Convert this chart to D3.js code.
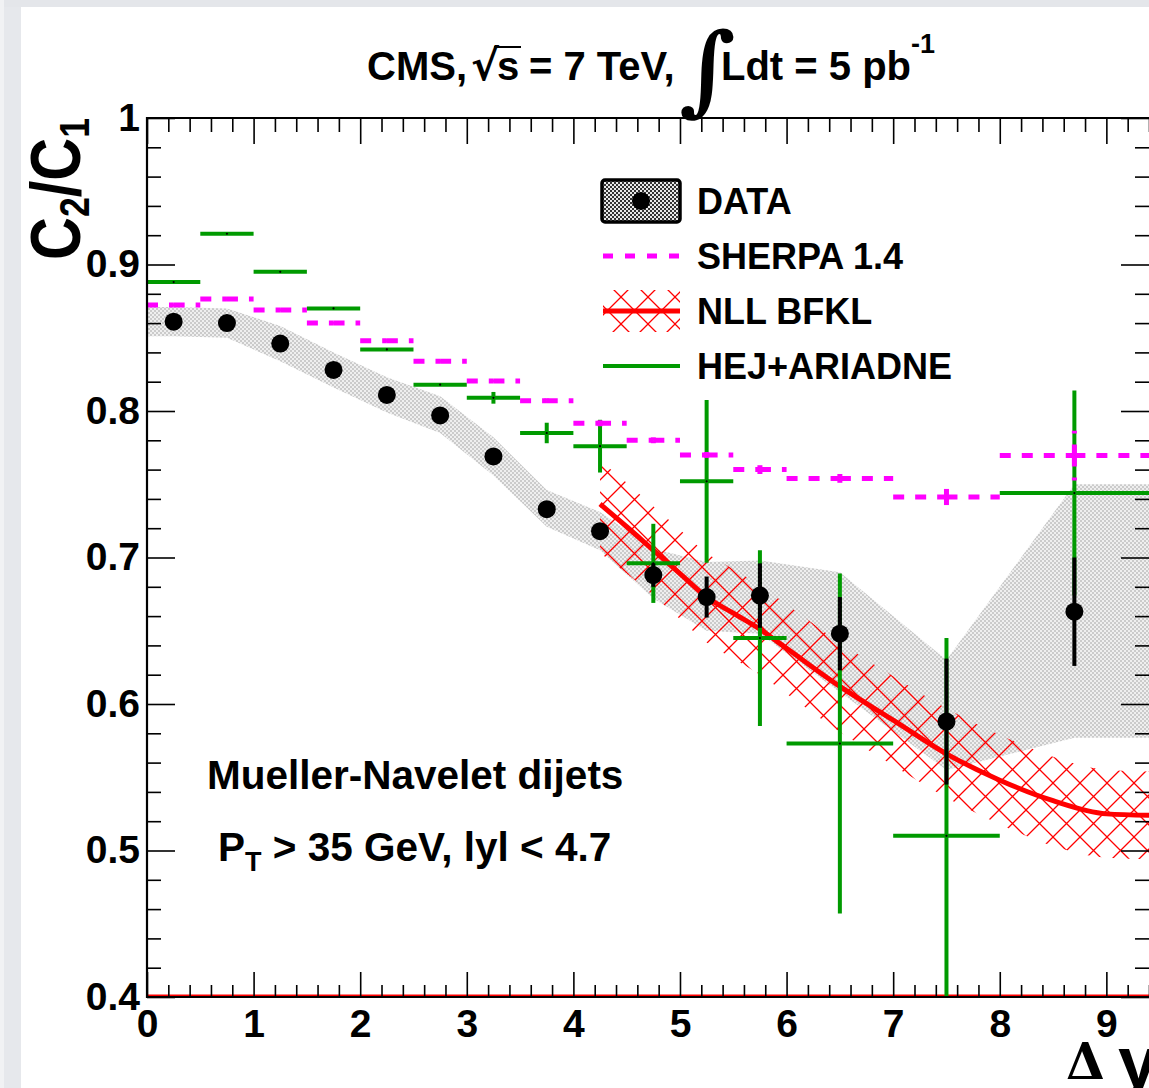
<!DOCTYPE html>
<html>
<head>
<meta charset="utf-8">
<script src="https://cdn.jsdelivr.net/npm/d3@7"></script>
<style>
  html, body { margin: 0; padding: 0; background: #fff; overflow: hidden; }
  svg { display: block; }
  text { font-family: "Liberation Sans", Arial, Helvetica, sans-serif; font-weight: bold; fill: #000; }
</style>
</head>
<body>
<svg id="chart" width="1149" height="1088"></svg>
<script>
// ---- measured azimuthal decorrelation C2/C1 versus rapidity separation ----
const dataX    = [0.25, 0.75, 1.25, 1.75, 2.25, 2.75, 3.25, 3.75, 4.25, 4.75, 5.25, 5.75, 6.5, 7.5, 8.7];
const dataY    = [0.861, 0.860, 0.846, 0.828, 0.811, 0.797, 0.769, 0.733, 0.718, 0.688, 0.673, 0.674, 0.648, 0.588, 0.663];
const dataStat = [0.002, 0.002, 0.002, 0.002, 0.002, 0.003, 0.003, 0.004, 0.005, 0.008, 0.014, 0.022, 0.025, 0.043, 0.037];

// systematic uncertainty band (edges extended to the axis range)
const sysX  = [0, 0.25, 0.75, 1.25, 1.75, 2.25, 2.75, 3.25, 3.75, 4.25, 4.75, 5.25, 5.75, 6.5, 7.5, 8.7, 9.4];
const sysHi = [0.871, 0.871, 0.870, 0.858, 0.840, 0.823, 0.810, 0.782, 0.746, 0.731, 0.706, 0.697, 0.698, 0.690, 0.630, 0.750, 0.750];
const sysLo = [0.851, 0.851, 0.850, 0.834, 0.816, 0.799, 0.785, 0.756, 0.721, 0.705, 0.672, 0.650, 0.648, 0.608, 0.555, 0.577, 0.577];

// bins shared by the generator predictions
const binLo = [0, 0.5, 1, 1.5, 2, 2.5, 3, 3.5, 4, 4.5, 5, 5.5, 6, 7, 8];
const binHi = [0.5, 1, 1.5, 2, 2.5, 3, 3.5, 4, 4.5, 5, 5.5, 6, 7, 8, 9.4];

// SHERPA 1.4
const sherpaY   = [0.8724, 0.8765, 0.869, 0.860, 0.848, 0.834, 0.8205, 0.807, 0.7916, 0.780, 0.770, 0.760, 0.754, 0.7413, 0.7696];
const sherpaErr = [0.001, 0.001, 0.001, 0.001, 0.001, 0.001, 0.001, 0.0015, 0.002, 0.002, 0.002, 0.003, 0.003, 0.0055, 0.017];

// HEJ+ARIADNE
const hejY   = [0.888, 0.921, 0.895, 0.870, 0.842, 0.818, 0.809, 0.785, 0.776, 0.696, 0.752, 0.645, 0.573, 0.510, 0.744];
const hejErr = [0.0005, 0.0005, 0.0005, 0.0005, 0.0005, 0.0005, 0.004, 0.007, 0.018, 0.027, 0.0555, 0.060, 0.116, 0.135, 0.070];

// NLL BFKL curve with its scale-uncertainty band
const nllX  = [4.25, 4.5, 4.75, 5.0, 5.25, 5.5, 5.75, 6.0, 6.5, 7.0, 7.5, 8.0, 8.5, 9.0, 9.4];
const nllY  = [0.7365, 0.721, 0.705, 0.689, 0.673, 0.662, 0.651, 0.638, 0.612, 0.589, 0.566, 0.548, 0.534, 0.525, 0.524];
const nllHi = [0.766, 0.751, 0.735, 0.719, 0.703, 0.692, 0.681, 0.668, 0.642, 0.619, 0.597, 0.579, 0.564, 0.555, 0.554];
const nllLo = [0.703, 0.689, 0.674, 0.658, 0.642, 0.631, 0.620, 0.607, 0.581, 0.558, 0.536, 0.518, 0.503, 0.495, 0.494];

// axis ticks
const xMajor = [0, 1, 2, 3, 4, 5, 6, 7, 8, 9];
const yMajor = [0.4, 0.5, 0.6, 0.7, 0.8, 0.9, 1.0];
const yLabels = ["0.4", "0.5", "0.6", "0.7", "0.8", "0.9", "1"];

const legendLabels = ["DATA", "SHERPA 1.4", "NLL BFKL", "HEJ+ARIADNE"];

// ---------------------------------------------------------------------------
const svg = d3.select("#chart");
const W = 1149, H = 1088;
const x = d3.scaleLinear().domain([0, 9.4]).range([147, 1149]);
const y = d3.scaleLinear().domain([0.4, 1.0]).range([997, 118]);

const GREEN = "#009a00", MAGENTA = "#ff00ff", RED = "#ff0000";

// page margins
svg.append("rect").attr("x", 0).attr("y", 0).attr("width", W).attr("height", H).attr("fill", "#fff");
svg.append("rect").attr("x", 0).attr("y", 0).attr("width", W).attr("height", 7).attr("fill", "#e4e6ea");
svg.append("rect").attr("x", 0).attr("y", 0).attr("width", 4).attr("height", H).attr("fill", "#f1f2f4");
svg.append("rect").attr("x", 4).attr("y", 7).attr("width", 17).attr("height", H - 7).attr("fill", "#e6e8ec");

const defs = svg.append("defs");
// fine checker fill for the systematic band
const pSys = defs.append("pattern").attr("id", "sysFill").attr("patternUnits", "userSpaceOnUse")
  .attr("width", 4).attr("height", 4);
pSys.append("rect").attr("width", 4).attr("height", 4).attr("fill", "#efefef");
pSys.append("rect").attr("width", 2).attr("height", 2).attr("fill", "#cbcbcb");
pSys.append("rect").attr("x", 2).attr("y", 2).attr("width", 2).attr("height", 2).attr("fill", "#cbcbcb");
// darker checker used in the legend entry
const pLeg = defs.append("pattern").attr("id", "legFill").attr("patternUnits", "userSpaceOnUse")
  .attr("width", 4).attr("height", 4);
pLeg.append("rect").attr("width", 4).attr("height", 4).attr("fill", "#e8e8e8");
pLeg.append("rect").attr("width", 2).attr("height", 2).attr("fill", "#333");
pLeg.append("rect").attr("x", 2).attr("y", 2).attr("width", 2).attr("height", 2).attr("fill", "#333");
// diagonal cross hatching for the BFKL band
const pHatch = defs.append("pattern").attr("id", "hatch").attr("patternUnits", "userSpaceOnUse")
  .attr("width", 27).attr("height", 27);
pHatch.append("path").attr("d", "M-2,-2L29,29M-2,29L29,-2")
  .attr("stroke", RED).attr("stroke-width", 1.3).attr("fill", "none");

defs.append("clipPath").attr("id", "plotClip").append("rect")
  .attr("x", x(0)).attr("y", y(1)).attr("width", x(9.4) - x(0)).attr("height", y(0.4) - y(1));

const plot = svg.append("g").attr("clip-path", "url(#plotClip)");

// systematic band
const sysArea = d3.area().x((d, i) => x(sysX[i])).y0((d, i) => y(sysLo[i])).y1((d, i) => y(sysHi[i]));
plot.append("path").datum(sysX).attr("d", sysArea).attr("fill", "url(#sysFill)");

// BFKL band and central curve
const nllArea = d3.area().curve(d3.curveMonotoneX)
  .x((d, i) => x(nllX[i])).y0((d, i) => y(nllLo[i])).y1((d, i) => y(nllHi[i]));
plot.append("path").datum(nllX).attr("d", nllArea).attr("fill", "url(#hatch)");
const nllLine = d3.line().curve(d3.curveMonotoneX).x((d, i) => x(nllX[i])).y((d, i) => y(nllY[i]));
plot.append("path").datum(nllX).attr("d", nllLine).attr("fill", "none")
  .attr("stroke", RED).attr("stroke-width", 5);
// floor line of the BFKL graph along the lower axis
plot.append("line").attr("x1", x(0)).attr("x2", x(9.4)).attr("y1", y(0.4) - 1.5).attr("y2", y(0.4) - 1.5)
  .attr("stroke", RED).attr("stroke-width", 2);

// HEJ+ARIADNE histogram with errors
const hej = plot.append("g").attr("stroke", GREEN).attr("stroke-width", 4).attr("fill", "none");
binLo.forEach((lo, i) => {
  const xc = (lo + binHi[i]) / 2;
  hej.append("line").attr("x1", x(lo)).attr("x2", x(binHi[i])).attr("y1", y(hejY[i])).attr("y2", y(hejY[i]));
  hej.append("line").attr("x1", x(xc)).attr("x2", x(xc))
    .attr("y1", y(hejY[i] - hejErr[i])).attr("y2", y(hejY[i] + hejErr[i]));
  plot.append("circle").attr("cx", x(xc)).attr("cy", y(hejY[i])).attr("r", 1.1).attr("fill", "#000");
});

// SHERPA histogram: each half-bin stroked separately with the dash pattern
const sh = plot.append("g").attr("stroke", MAGENTA).attr("stroke-width", 5).attr("fill", "none")
  .attr("stroke-dasharray", "11 11");
binLo.forEach((lo, i) => {
  const xc = (lo + binHi[i]) / 2, yc = y(sherpaY[i]);
  sh.append("path").attr("d", `M${x(lo)},${yc}H${x(xc)}`);
  sh.append("path").attr("d", `M${x(xc)},${yc}H${x(binHi[i])}`);
  sh.append("path").attr("d", `M${x(xc)},${yc}V${y(sherpaY[i] + sherpaErr[i])}`);
  sh.append("path").attr("d", `M${x(xc)},${yc}V${y(sherpaY[i] - sherpaErr[i])}`);
});

// data points with statistical errors
const dat = plot.append("g");
dataX.forEach((dx, i) => {
  dat.append("line").attr("x1", x(dx)).attr("x2", x(dx))
    .attr("y1", y(dataY[i] - dataStat[i])).attr("y2", y(dataY[i] + dataStat[i]))
    .attr("stroke", "#000").attr("stroke-width", 4);
  dat.append("circle").attr("cx", x(dx)).attr("cy", y(dataY[i])).attr("r", 9).attr("fill", "#000");
});

// ---- frame and axes ----
const axes = svg.append("g");
function tickAxis(gen, transform, size, values) {
  const g = axes.append("g").attr("transform", transform)
    .call(gen.tickValues(values).tickSize(size).tickFormat(""));
  g.select(".domain").remove();
  g.selectAll("line").attr("stroke", "#000").attr("stroke-width", 1.6);
  return g;
}
const xMinor = d3.range(0, 9.41, 0.2).filter(v => Math.abs(v - Math.round(v)) > 1e-6);
const yMinor = d3.range(0.4, 1.0001, 0.02).filter(v => Math.abs(v * 10 - Math.round(v * 10)) > 1e-6);
tickAxis(d3.axisTop(x), `translate(0,${y(0.4)})`, 25, xMajor);
tickAxis(d3.axisTop(x), `translate(0,${y(0.4)})`, 12, xMinor);
tickAxis(d3.axisBottom(x), `translate(0,${y(1)})`, 26, xMajor);
tickAxis(d3.axisBottom(x), `translate(0,${y(1)})`, 14, xMinor);
tickAxis(d3.axisRight(y), `translate(${x(0)},0)`, 28, yMajor);
tickAxis(d3.axisRight(y), `translate(${x(0)},0)`, 14, yMinor);
tickAxis(d3.axisLeft(y), `translate(${x(9.4)},0)`, 28, yMajor);
tickAxis(d3.axisLeft(y), `translate(${x(9.4)},0)`, 14, yMinor);

// frame (right side falls on the page edge)
axes.append("path")
  .attr("d", `M${x(9.4)},${y(1)}H${x(0)}V${y(0.4)}H${x(9.4)}`)
  .attr("fill", "none").attr("stroke", "#000").attr("stroke-width", 2.2);

// tick labels
const xl = axes.append("g").attr("transform", `translate(0,${y(0.4)})`)
  .call(d3.axisBottom(x).tickValues(xMajor).tickSize(0).tickPadding(12).tickFormat(d3.format("d")));
xl.select(".domain").remove();
xl.selectAll("text").attr("font-size", 39).attr("font-family", null).style("fill", "#000");

const yl = axes.append("g").attr("transform", `translate(${x(0)},0)`)
  .call(d3.axisLeft(y).tickValues(yMajor).tickSize(0).tickPadding(7).tickFormat((d, i) => yLabels[i]));
yl.select(".domain").remove();
yl.selectAll("text").attr("font-size", 39).attr("font-family", null).style("fill", "#000");

// axis titles
const yt = svg.append("text").attr("transform", "translate(80,118) rotate(-90)")
  .attr("text-anchor", "end").attr("font-size", 70)
  .attr("textLength", 142).attr("lengthAdjust", "spacingAndGlyphs");
yt.append("tspan").text("C");
yt.append("tspan").attr("font-size", 42).attr("dy", 9).text("2");
yt.append("tspan").attr("dy", -9).text("/C");
yt.append("tspan").attr("font-size", 42).attr("dy", 9).text("1");

svg.append("text").attr("x", 1066).attr("y", 1079).attr("font-size", 50)
  .attr("font-weight", "normal").style("font-family", "'DejaVu Serif', serif").text("Δ");
svg.append("text").attr("x", 1118).attr("y", 1087).attr("font-size", 72).text("y");

// title
const T = svg.append("g");
T.append("text").attr("x", 367).attr("y", 80).attr("font-size", 40).text("CMS,");
T.append("text").attr("x", 471).attr("y", 80).attr("font-size", 42).attr("font-weight", "normal")
  .style("font-family", "'DejaVu Sans', sans-serif").text("√");
T.append("line").attr("x1", 494).attr("x2", 521).attr("y1", 47).attr("y2", 47).attr("stroke", "#000").attr("stroke-width", 2);
T.append("text").attr("x", 497).attr("y", 80).attr("font-size", 40).text("s");
T.append("text").attr("x", 529).attr("y", 80).attr("font-size", 40).text("= 7 TeV,");
T.append("text").attr("x", 679).attr("y", 103).attr("font-size", 98).attr("font-weight", "normal")
  .style("font-family", "'DejaVu Serif', serif").text("∫");
T.append("text").attr("x", 721).attr("y", 80).attr("font-size", 40).text("Ldt = 5 pb");
T.append("text").attr("x", 911).attr("y", 53).attr("font-size", 27).text("-1");

// annotations
svg.append("text").attr("x", 207).attr("y", 789).attr("font-size", 40.5).text("Mueller-Navelet dijets");
const pt = svg.append("text").attr("x", 218).attr("y", 861).attr("font-size", 40.5);
pt.append("tspan").text("P");
pt.append("tspan").attr("font-size", 27).attr("dy", 10).text("T");
pt.append("tspan").attr("dy", -10).text(" > 35 GeV, lyl < 4.7");

// legend
const L = svg.append("g");
const ly = [201, 256, 311, 366];
L.append("rect").attr("x", 602).attr("y", 180).attr("width", 78).attr("height", 42).attr("rx", 3)
  .attr("fill", "url(#legFill)").attr("stroke", "#000").attr("stroke-width", 3.5);
L.append("circle").attr("cx", 641).attr("cy", ly[0]).attr("r", 9).attr("fill", "#000");
L.append("line").attr("x1", 603).attr("x2", 680).attr("y1", ly[1]).attr("y2", ly[1])
  .attr("stroke", MAGENTA).attr("stroke-width", 5).attr("stroke-dasharray", "10 12");
L.append("rect").attr("x", 603).attr("y", 290).attr("width", 77).attr("height", 42).attr("fill", "url(#hatch)");
L.append("line").attr("x1", 603).attr("x2", 680).attr("y1", ly[2]).attr("y2", ly[2])
  .attr("stroke", RED).attr("stroke-width", 5);
L.append("line").attr("x1", 603).attr("x2", 680).attr("y1", ly[3]).attr("y2", ly[3])
  .attr("stroke", GREEN).attr("stroke-width", 4);
legendLabels.forEach((t, i) => {
  L.append("text").attr("x", 697).attr("y", ly[i] + 13).attr("font-size", 36).text(t);
});
</script>
</body>
</html>
